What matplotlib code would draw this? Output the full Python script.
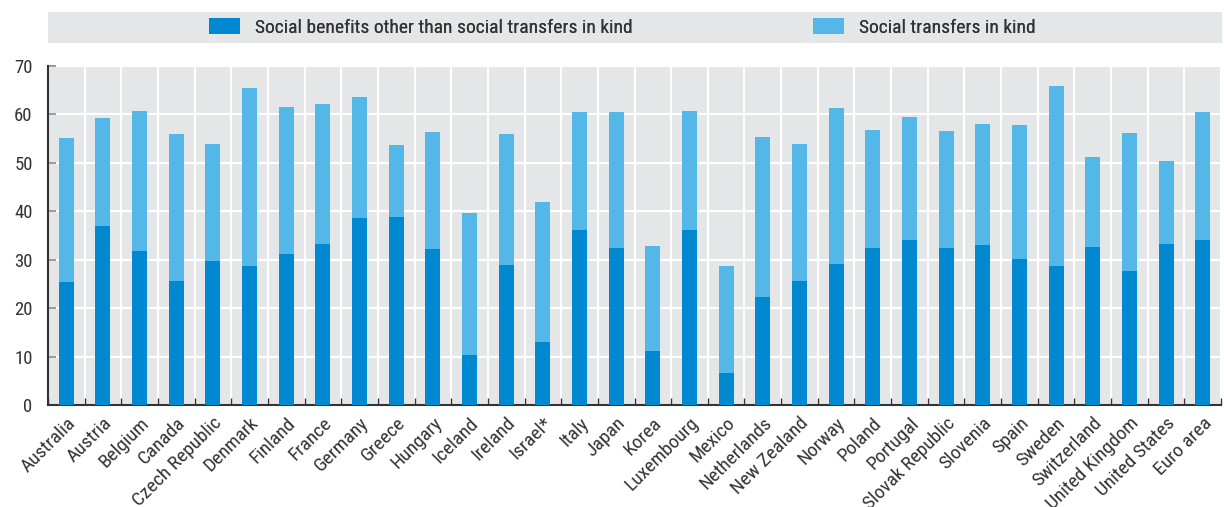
import matplotlib
matplotlib.use("Agg")
import matplotlib.pyplot as plt
import matplotlib.transforms as mtransforms
import numpy as np
from matplotlib.patches import Rectangle, Patch
from matplotlib import font_manager

countries = ["Australia", "Austria", "Belgium", "Canada", "Czech Republic", "Denmark",
             "Finland", "France", "Germany", "Greece", "Hungary", "Iceland", "Ireland",
             "Israel*", "Italy", "Japan", "Korea", "Luxembourg", "Mexico", "Netherlands",
             "New Zealand", "Norway", "Poland", "Portugal", "Slovak Republic", "Slovenia",
             "Spain", "Sweden", "Switzerland", "United Kingdom", "United States", "Euro area"]

benefits_other = [25.4, 37.0, 31.8, 25.6, 29.8, 28.8, 31.2, 33.2, 38.6, 38.8, 32.2, 10.4,
                  28.9, 13.0, 36.1, 32.4, 11.2, 36.1, 6.7, 22.3, 25.6, 29.1, 32.4, 34.1,
                  32.4, 33.0, 30.1, 28.7, 32.6, 27.7, 33.2, 34.1]
totals = [55.1, 59.2, 60.8, 55.9, 53.8, 65.4, 61.5, 62.1, 63.7, 53.6, 56.3, 39.6,
          55.9, 41.9, 60.6, 60.4, 32.8, 60.8, 28.7, 55.3, 53.8, 61.3, 56.7, 59.4,
          56.5, 58.0, 57.8, 65.8, 51.3, 56.1, 50.3, 60.6]
transfers_kind = [round(t - b, 1) for t, b in zip(totals, benefits_other)]

yticks = [0, 10, 20, 30, 40, 50, 60, 70]
series_names = ["Social benefits other than social transfers in kind", "Social transfers in kind"]

DARK = "#0088d1"
LIGHT = "#53b7e8"
BG = "#e5e6e8"
TXT = "#333333"

avail = {f.name for f in font_manager.fontManager.ttflist}
cands = ['Roboto Condensed', 'Liberation Sans Narrow', 'Open Sans Condensed', 'Roboto', 'Liberation Sans']
fam = [c for c in cands if c in avail][0]
condensed = fam in ('Roboto Condensed', 'Liberation Sans Narrow', 'Open Sans Condensed')
plt.rcParams['font.family'] = [fam, 'DejaVu Sans']
FS = 14 if condensed else 12

fig = plt.figure(figsize=(12.24, 5.07), dpi=100)
ax = fig.add_axes([48/1224, 1 - 405/507, (1221-48)/1224, (405-66)/507])
ax.set_facecolor(BG)

x = np.arange(len(countries))
w = 0.41
ax.bar(x, benefits_other, width=w, color=DARK, zorder=3, label=series_names[0])
ax.bar(x, transfers_kind, width=w, bottom=benefits_other, color=LIGHT, zorder=3, label=series_names[1])

ax.set_xlim(-0.5, len(countries) - 0.5)
ax.set_ylim(0, 70)
ax.set_yticks(yticks)
ax.set_yticklabels([str(v) for v in yticks], fontsize=FS - 0.5, color=TXT)

ax.set_xticks(x)
ax.set_xticklabels(countries, rotation=45, ha='right', rotation_mode='anchor',
                   fontsize=FS, color=TXT)
offset = mtransforms.ScaledTranslation(-6/100, 0, fig.dpi_scale_trans)
for lab in ax.get_xticklabels():
    lab.set_transform(lab.get_transform() + offset)
ax.set_xticks(np.arange(-0.5, len(countries), 1.0), minor=True)

ax.tick_params(axis='x', which='major', length=0, pad=6.5)
ax.tick_params(axis='x', which='minor', length=5, direction='in', color='#333333', width=1)
ax.tick_params(axis='y', which='major', length=6, direction='in', color='#888888', width=1.2, pad=11)

ax.grid(True, axis='y', which='major', color='white', linewidth=1.5, zorder=1)
ax.grid(True, axis='x', which='minor', color='white', linewidth=1.5, zorder=1)
ax.set_axisbelow(True)

for s in ['top', 'right']:
    ax.spines[s].set_visible(False)
for s in ['left', 'bottom']:
    ax.spines[s].set_color('#333333')
    ax.spines[s].set_linewidth(1.5)

# legend band
fig.add_artist(Rectangle((48/1224, 1 - 43/507), (1222-48)/1224, 31/507,
                         transform=fig.transFigure, facecolor=BG, edgecolor='none', zorder=0))
colors = [DARK, LIGHT]
anchors = [203/1224, 807/1224]
for name, col, xa in zip(series_names, colors, anchors):
    leg = fig.legend([Patch(facecolor=col)], [name], loc='center left',
                     bbox_to_anchor=(xa, 1 - 27.5/507), frameon=False,
                     fontsize=FS, handlelength=1.6, handleheight=0.85, handletextpad=0.77,
                     labelcolor=TXT, borderaxespad=0, borderpad=0.3)
    fig.add_artist(leg)

fig.savefig("out.png", dpi=100)
